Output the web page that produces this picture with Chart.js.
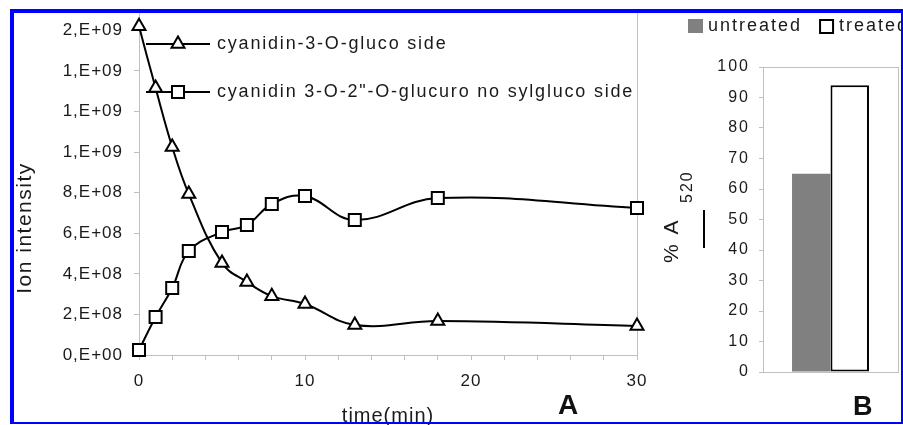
<!DOCTYPE html>
<html>
<head>
<meta charset="utf-8">
<script src="https://cdn.jsdelivr.net/npm/chart.js"></script>
<style>
  html, body { margin: 0; padding: 0; background: #fff; width: 903px; height: 425px; overflow: hidden; }
  #wrapA { position: absolute; left: 0; top: 0; }
  #wrapB { position: absolute; left: 650px; top: 0; }
  #frame {
    position: absolute; left: 10px; top: 9px; width: 887px; height: 409px;
    border-style: solid; border-color: #0000ff; border-width: 4px 2px 2px 4px;
    pointer-events: none;
  }
  .panel { position: absolute; font: bold 28px "Liberation Sans", Arial, sans-serif; color: #111; line-height: 1; }
</style>
</head>
<body>
<div id="wrapA"><canvas id="chartA" width="650" height="440"></canvas></div>
<div id="wrapB"><canvas id="chartB" width="300" height="440"></canvas></div>
<div class="panel" style="left:558px; top:391px;">A</div>
<div class="panel" style="left:853px; top:393px; font-size:27px;">B</div>
<div id="frame"></div>

<script>
// panel A: ion intensity over time
const timeMin = [0, 1, 2, 3, 5, 6.5, 8, 10, 13, 18, 30];
const glucoside = [1.62e9, 1.315e9, 1.025e9, 7.93e8, 4.53e8, 3.6e8, 2.9e8, 2.51e8, 1.48e8, 1.67e8, 1.43e8];
const glucuronosyl = [2.5e7, 1.87e8, 3.3e8, 5.12e8, 6.06e8, 6.4e8, 7.44e8, 7.83e8, 6.65e8, 7.73e8, 7.24e8];
const seriesNames = ['cyanidin-3-O-gluco side', 'cyanidin 3-O-2"-O-glucuro no sylgluco side'];
const yTickLabels = ['0,E+00', '2,E+08', '4,E+08', '6,E+08', '8,E+08', '1,E+09', '1,E+09', '1,E+09', '2,E+09'];
const yStep = 2e8;
const xTickLabels = ['0', '10', '20', '30'];

// panel B: % A520
const barLabels = [''];
const barNames = ['untreated', 'treated'];
const untreated = [65];
const treated = [94];
const bTicks = [0, 10, 20, 30, 40, 50, 60, 70, 80, 90, 100];

const FONT = '"Liberation Sans", Arial, sans-serif';
const GREY = '#c0c0c0';
const INK = '#1a1a1a';

const spacing = {
  id: 'spacing',
  beforeDraw(chart, args, opts) { chart.ctx.letterSpacing = opts.value || '0px'; }
};

// keep the plot area exactly where the layout padding puts it
const noEdgePad = s => { s.paddingTop = 0; s.paddingBottom = 0; s.paddingLeft = 0; s.paddingRight = 0; };

const extrasA = {
  id: 'extrasA',
  afterDraw(chart) {
    const ctx = chart.ctx;
    ctx.save();
    ctx.letterSpacing = '1.8px';
    ctx.font = '18px ' + FONT;
    ctx.textBaseline = 'middle';
    chart.data.datasets.forEach((ds, i) => {
      const y = 44 + i * 48;
      ctx.strokeStyle = '#000';
      ctx.lineWidth = 2;
      ctx.beginPath(); ctx.moveTo(146, y); ctx.lineTo(210, y); ctx.stroke();
      ctx.fillStyle = '#fff';
      Chart.helpers.drawPoint(ctx, { pointStyle: ds.pointStyle, radius: ds.pointRadius, rotation: 0, borderWidth: 2 }, 178, y);
      ctx.fillStyle = INK;
      ctx.fillText(ds.label, 217, y);
    });
    // y axis title
    ctx.letterSpacing = '1.5px';
    ctx.font = '21px ' + FONT;
    ctx.translate(25, 228);
    ctx.rotate(-Math.PI / 2);
    ctx.textAlign = 'center';
    ctx.fillText('Ion intensity', 0, 0);
    ctx.restore();
  }
};

function series(vals, name, style, r) {
  return {
    label: name,
    data: timeMin.map((t, i) => ({ x: t, y: vals[i] })),
    borderColor: '#000', borderWidth: 2,
    pointStyle: style, pointRadius: r, pointBorderWidth: 2,
    pointBackgroundColor: '#fff', pointBorderColor: '#000',
    tension: 0.4, clip: false, fill: false
  };
}

new Chart(document.getElementById('chartA'), {
  type: 'line',
  data: {
    datasets: [
      series(glucoside, seriesNames[0], 'triangle', 7.5),
      series(glucuronosyl, seriesNames[1], 'rect', 8.5)
    ]
  },
  options: {
    responsive: false,
    animation: false,
    layout: { padding: { top: 13, right: 13, left: 0, bottom: 0 } },
    plugins: { legend: { display: false }, tooltip: { enabled: false }, spacing: { value: '1px' } },
    scales: {
      x: {
        type: 'linear', min: 0, max: 30,
        ticks: {
          stepSize: 2, autoSkip: false, maxRotation: 0, padding: 11,
          color: INK, font: { family: FONT, size: 17 },
          callback: v => (v % 10 === 0 ? xTickLabels[v / 10] : '')
        },
        grid: {
          color: c => (c.tick && c.tick.value === 30 ? GREY : 'rgba(0,0,0,0)'),
          tickColor: GREY, tickLength: 5
        },
        border: { color: GREY },
        title: { display: true, text: 'time(min)', color: INK, font: { family: FONT, size: 20 }, padding: { top: 0, bottom: 12 } },
        afterFit: s => { s.height = 85; noEdgePad(s); }
      },
      y: {
        min: 0, max: 1.685e9,
        ticks: {
          autoSkip: false, padding: 11, color: INK, font: { family: FONT, size: 17 },
          callback: v => yTickLabels[Math.round(v / yStep)]
        },
        afterBuildTicks: s => {
          s.ticks = yTickLabels.map((_, i) => ({ value: i * yStep }));
        },
        grid: { drawOnChartArea: false, color: GREY, tickLength: 5 },
        border: { color: GREY },
        afterFit: s => { s.width = 139; noEdgePad(s); }
      }
    }
  },
  plugins: [spacing, extrasA]
});

const extrasB = {
  id: 'extrasB',
  afterDraw(chart) {
    const ctx = chart.ctx;
    const ds = chart.data.datasets;
    ctx.save();
    ctx.letterSpacing = '2px';
    ctx.font = '18px ' + FONT;
    ctx.textBaseline = 'middle';
    // legend
    let x = 38;
    ds.forEach(d => {
      ctx.fillStyle = d.backgroundColor;
      if (d.borderWidth) {
        ctx.strokeStyle = d.borderColor; ctx.lineWidth = 2;
        ctx.fillRect(x, 20, 13, 13); ctx.strokeRect(x, 20, 13, 13);
        x += 19;
      } else {
        ctx.fillRect(x, 19, 15, 14);
        x += 20;
      }
      ctx.fillStyle = INK;
      ctx.fillText(d.label, x, 26);
      x += ctx.measureText(d.label).width + 18;
    });
    // y title % A520
    ctx.translate(28, 263);
    ctx.rotate(-Math.PI / 2);
    ctx.textBaseline = 'alphabetic';
    ctx.font = '21px ' + FONT;
    ctx.fillText('% A', 0, 0);
    ctx.font = '16px ' + FONT;
    ctx.fillText('520', 60, 14);
    ctx.restore();
    ctx.save();
    ctx.strokeStyle = '#000'; ctx.lineWidth = 2;
    ctx.beginPath(); ctx.moveTo(54, 210); ctx.lineTo(54, 248); ctx.stroke();
    ctx.restore();
  }
};

new Chart(document.getElementById('chartB'), {
  type: 'bar',
  data: {
    labels: barLabels,
    datasets: [
      { label: barNames[0], data: untreated, backgroundColor: '#808080', borderWidth: 0 },
      { label: barNames[1], data: treated, backgroundColor: '#ffffff', borderColor: '#000000', borderWidth: 2, borderSkipped: false }
    ]
  },
  options: {
    responsive: false,
    animation: false,
    layout: { padding: { top: 67, right: 52, left: 0, bottom: 0 } },
    datasets: { bar: { categoryPercentage: 0.57, barPercentage: 1.0 } },
    plugins: { legend: { display: false }, tooltip: { enabled: false }, spacing: { value: '2px' } },
    scales: {
      x: {
        ticks: { display: false },
        grid: { color: GREY, drawTicks: false },
        border: { color: GREY },
        afterFit: s => { s.height = 68; }
      },
      y: {
        min: 0, max: 100,
        ticks: { stepSize: 10, padding: 9, color: INK, font: { family: FONT, size: 16 },
          callback: v => (bTicks.includes(v) ? String(v) : '') },
        grid: {
          color: c => (c.tick && c.tick.value === 100 ? GREY : 'rgba(0,0,0,0)'),
          tickColor: GREY, tickLength: 4
        },
        border: { color: GREY },
        afterFit: s => { s.width = 113; }
      }
    }
  },
  plugins: [spacing, extrasB]
});
</script>
</body>
</html>
